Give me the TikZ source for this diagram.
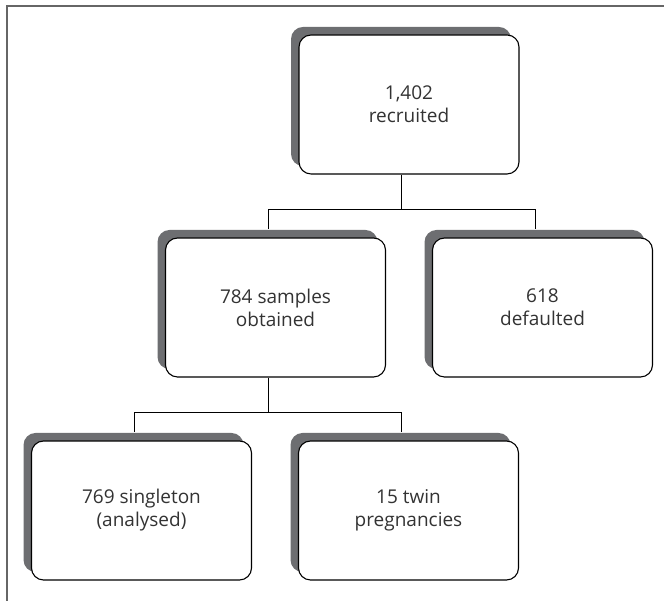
\documentclass[tikz,border=0pt]{standalone}
\usepackage{fontspec}
\setmainfont{Open Sans}
\usepackage{tikz}
\usetikzlibrary{shadows,positioning,calc}
\definecolor{shade}{HTML}{6D6E71}
\definecolor{framegray}{HTML}{666666}
\definecolor{ink}{HTML}{333333}

\begin{document}
\begin{tikzpicture}[
  x=1pt, y=1pt,
  box/.style={rectangle, draw=black, line width=1.1pt, fill=white, rounded corners=12pt,
    minimum width=220pt, minimum height=139pt, inner sep=0pt, align=center, text=ink,
    font=\fontsize{19}{23}\selectfont,
    general shadow={fill=shade, shadow xshift=-8pt, shadow yshift=8pt}},
  link/.style={draw=black, line width=1pt}
]
\useasboundingbox (0,0) rectangle (664,601);
\draw[framegray, line width=2pt] (7,0) -- (7,595) -- (664,595);

\node[box] (rec) at (409,496.5) {1,402\\recruited};
\node[box] (obt) at (275.5,293.5) {784 samples\\obtained};
\node[box] (def) at (542.5,293.5) {618\\defaulted};
\node[box] (sing) at (141.5,90.5) {769 singleton\\(analysed)};
\node[box] (twin) at (408.5,90.5) {15 twin\\pregnancies};

% tree links
\coordinate (j1) at ([xshift=-7.5pt,yshift=-35pt]rec.south);
\coordinate (j2) at ([xshift=-7.5pt,yshift=-35pt]obt.south);
\draw[link] ([xshift=-7.5pt]rec.south) -- (j1) -| ([xshift=-7.5pt,yshift=8pt]obt.north);
\draw[link] (j1) -| ([xshift=-7.5pt,yshift=8pt]def.north);
\draw[link] ([xshift=-7.5pt]obt.south) -- (j2) -| ([xshift=-7.5pt,yshift=8pt]sing.north);
\draw[link] (j2) -| ([xshift=-7.5pt,yshift=8pt]twin.north);
\end{tikzpicture}
\end{document}
